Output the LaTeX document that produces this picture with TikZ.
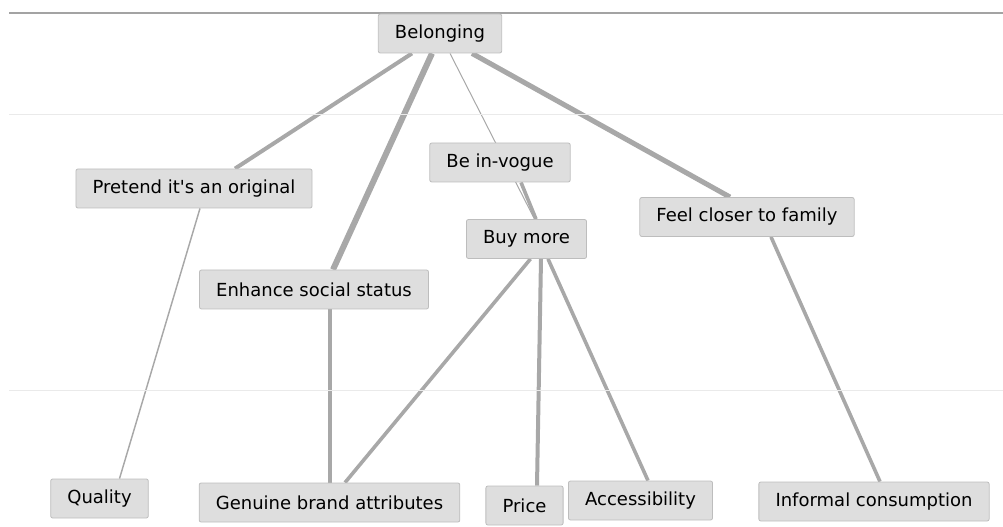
\documentclass[tikz,border=0pt]{standalone}
\usepackage{fontspec}
\setmainfont{DejaVu Sans}
\usetikzlibrary{calc,backgrounds}
\definecolor{boxfill}{HTML}{DEDEDE}
\definecolor{boxline}{HTML}{BDBDBD}
\definecolor{linkgray}{HTML}{A8A8A8}
\definecolor{rulegray}{HTML}{A3A3A3}
\definecolor{gridgray}{HTML}{EAEAEA}
\tikzset{
  concept/.style={draw=boxline, fill=boxfill, rounded corners=1.5pt, line width=0.6pt,
    minimum height=29.25pt, inner xsep=12.5pt, font=\fontsize{13.5}{16}\selectfont},
  link/.style={draw=linkgray, line width=#1},
  link/.default=2.7pt
}
\begin{document}
\begin{tikzpicture}[x=0.75pt,y=-0.75pt]
\useasboundingbox (0,0) rectangle (1003,527);
% level rules
\draw[rulegray, line width=1.5pt] (9,13) -- (1003,13);
\draw[gridgray, line width=1pt] (9,114.5) -- (1003,114.5);
\draw[gridgray, line width=1pt] (9,390.5) -- (1003,390.5);
% concepts
\node[concept] (bel) at (440,33.5) {Belonging};
\node[concept] (vog) at (500,162.5) {Be in-vogue};
\node[concept] (pre) at (194,188.5) {Pretend it\textquotesingle s an original};
\node[concept] (fee) at (747,217) {Feel closer to family};
\node[concept] (buy) at (526.5,239) {Buy more};
\node[concept] (enh) at (314,289.5) {Enhance social status};
\node[concept] (qua) at (99.5,498.5) {Quality};
\node[concept] (gen) at (329.5,502.5) {Genuine brand attributes};
\node[concept] (pri) at (524.5,505.5) {Price};
\node[concept] (acc) at (640.5,500.5) {Accessibility};
\node[concept] (inf) at (874,501.5) {Informal consumption};
% links
\begin{scope}[on background layer]
\draw[link=3pt] ($(bel.south)+(-28,0)$) -- ($(pre.north)+(41,0)$);
\draw[link=4.5pt] ($(bel.south)+(-8,0)$) -- ($(enh.north)+(19,0)$);
\draw[link=0.75pt] ($(bel.south)+(10,0)$) -- ($(buy.north)+(8,0)$);
\draw[link=3.8pt] ($(bel.south)+(32,0)$) -- ($(fee.north)+(-17,0)$);
\draw[link] ($(vog.south)+(21,0)$) -- ($(buy.north)+(9.5,0)$);
\draw[link=1.1pt] ($(pre.south)+(6,0)$) -- ($(qua.north)+(20,0)$);
\draw[link] ($(enh.south)+(16,0)$) -- ($(gen.north)+(0.5,0)$);
\draw[link] ($(buy.south)+(4,0)$) -- ($(gen.north)+(15.5,0)$);
\draw[link=3pt] ($(buy.south)+(14.5,0)$) -- ($(pri.north)+(12.5,0)$);
\draw[link] ($(buy.south)+(21.5,0)$) -- ($(acc.north)+(7.5,0)$);
\draw[link] ($(fee.south)+(24,0)$) -- ($(inf.north)+(6,0)$);
\end{scope}
\end{tikzpicture}
\end{document}
